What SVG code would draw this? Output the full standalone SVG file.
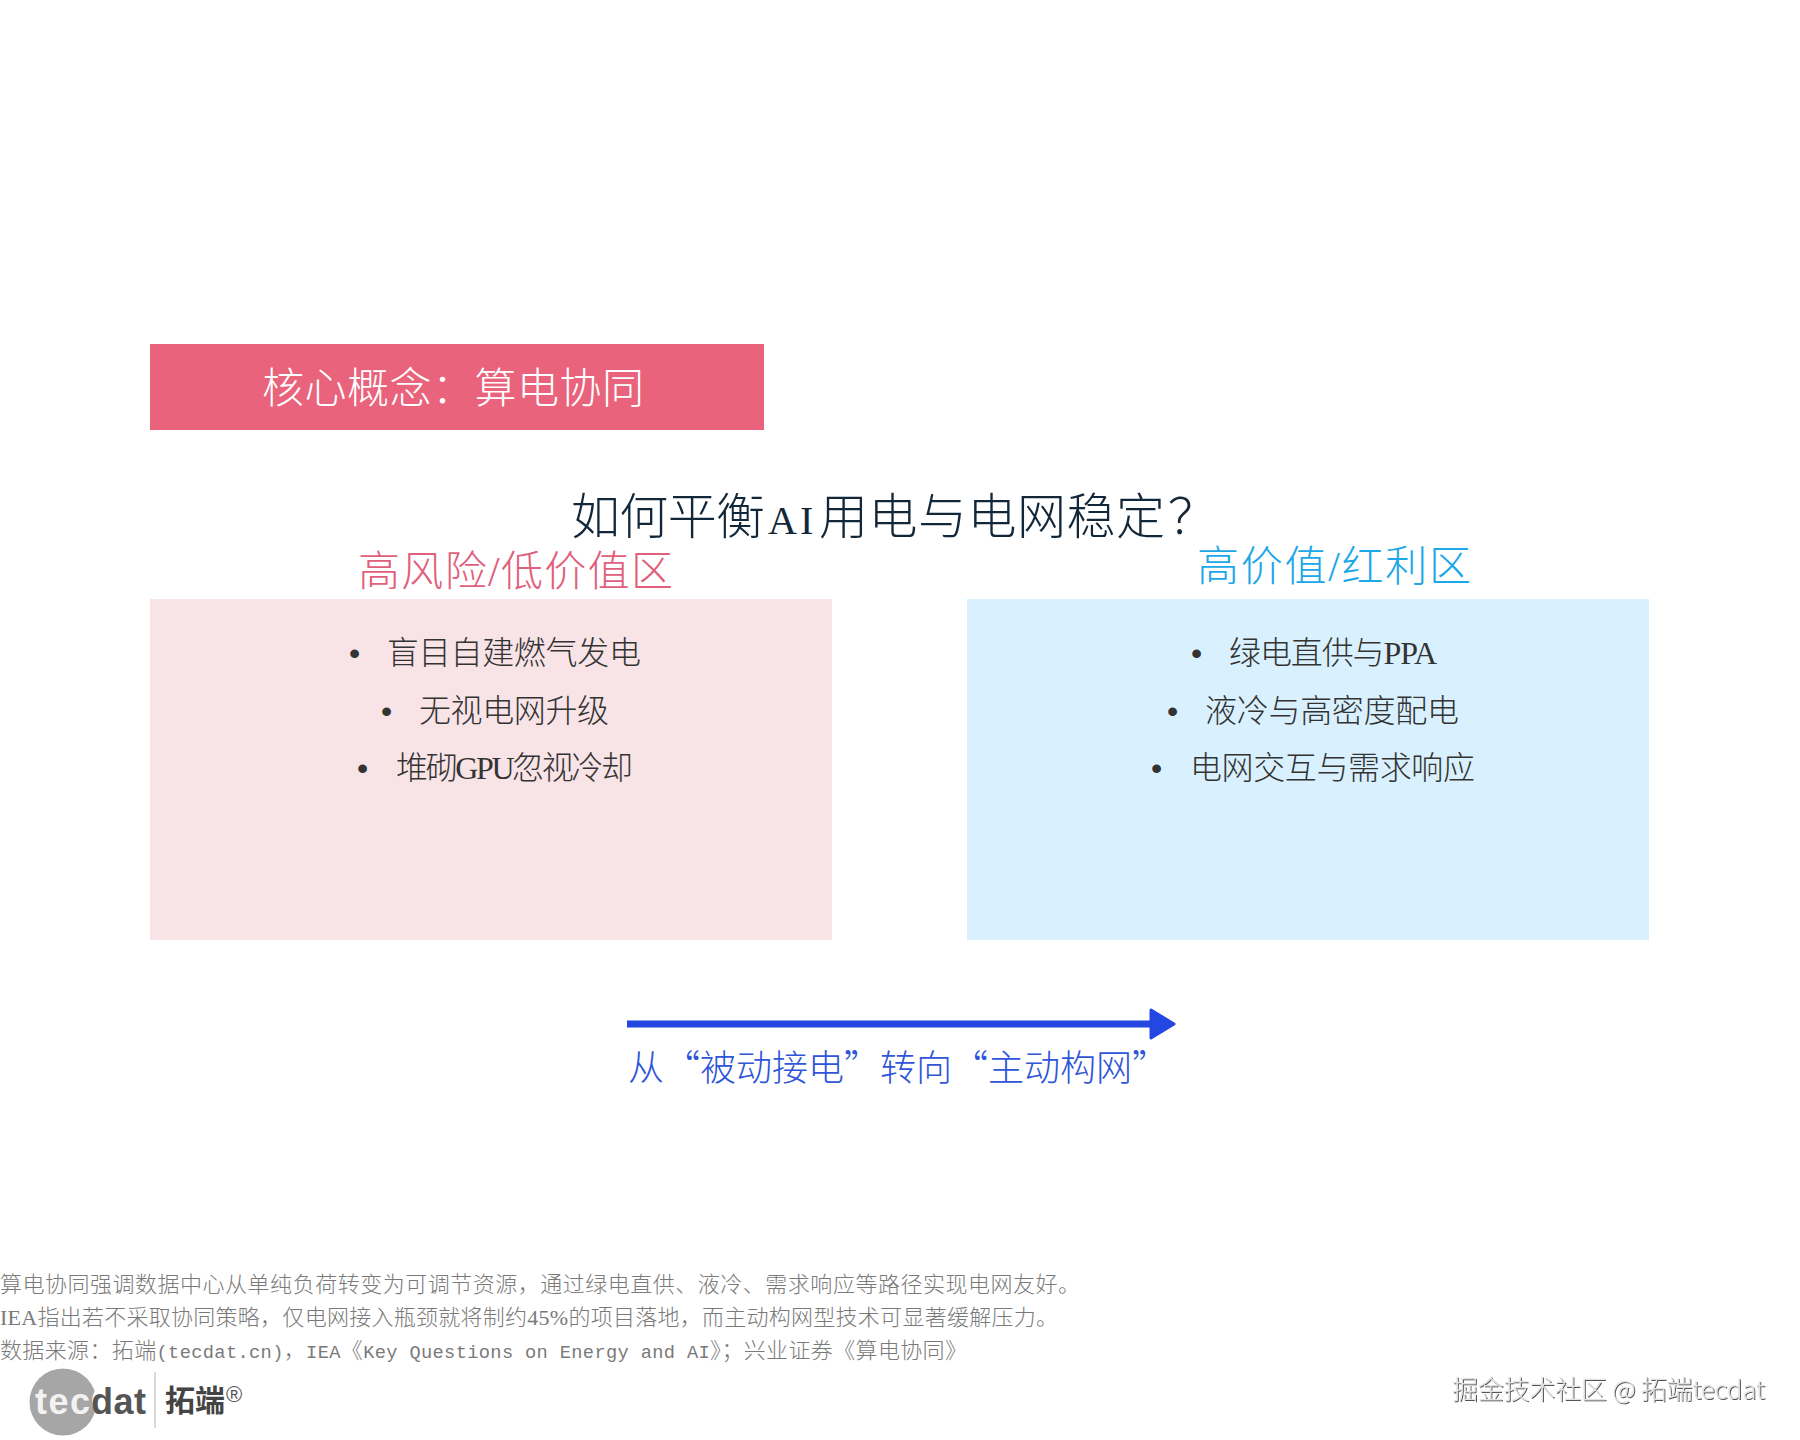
<svg xmlns="http://www.w3.org/2000/svg" width="1800" height="1440" viewBox="0 0 1800 1440">
<defs>
<style>
text{font-family:"Noto Sans CJK SC","Liberation Serif",serif;font-weight:300}
.l{font-family:"Liberation Serif",serif;font-weight:400}
.m{font-family:"Liberation Mono",monospace;font-weight:400;font-size:18.7px}
.f{font-size:22px;fill:#7a7a7a}
.b{font-size:32px;fill:#333}
.d{font-family:"Liberation Mono",monospace;font-weight:400;font-size:32px;fill:#333}
.w{font-family:"Noto Sans CJK SC","Liberation Sans",sans-serif;font-size:26px;fill:#e2e2e2;filter:url(#emboss)}
</style>
<filter id="emboss" x="-5%" y="-20%" width="110%" height="140%"><feDropShadow dx="1" dy="1" stdDeviation="0.4" flood-color="#555"/></filter>
<marker id="ah" markerUnits="userSpaceOnUse" markerWidth="30" markerHeight="36" refX="2" refY="18" orient="auto"><path d="M3 4 L26 18 L3 32Z" fill="#2347e0" stroke="#2347e0" stroke-width="3" stroke-linejoin="round"/></marker>
</defs>
<rect width="1800" height="1440" fill="#fff"/>
<g id="header"><rect x="150" y="344" width="614" height="86" fill="#e8637b"/><text x="262" y="403" font-size="42" fill="#fff" textLength="382">核心概念：算电协同</text></g>
<g id="title"><text y="534" font-size="49" fill="#12283a"><tspan x="571" textLength="194">如何平衡</tspan><tspan x="768" class="l" font-size="40" letter-spacing="3">AI</tspan><tspan x="819" textLength="346">用电与电网稳定</tspan><tspan x="1168">？</tspan></text></g>
<g id="risk">
<text x="358" y="586" font-size="42" fill="#e0607c" textLength="315">高风险<tspan class="l">/</tspan>低价值区</text>
<rect x="150" y="599" width="682" height="341" fill="#f8e3e7"/>
<text x="345" y="664" class="d">•</text><text x="387" y="664" class="b" textLength="254">盲目自建燃气发电</text>
<text x="377" y="722" class="d">•</text><text x="419" y="722" class="b" textLength="190">无视电网升级</text>
<text x="353" y="779" class="d">•</text><text x="396" y="779" class="b" textLength="237">堆砌<tspan class="l">GPU</tspan>忽视冷却</text>
</g>
<g id="value">
<text x="1197" y="581" font-size="42" fill="#1ba7e8" textLength="274">高价值<tspan class="l">/</tspan>红利区</text>
<rect x="967" y="599" width="682" height="341" fill="#d9f1fe"/>
<text x="1187" y="664" class="d">•</text><text x="1229" y="664" class="b" textLength="208">绿电直供与<tspan class="l">PPA</tspan></text>
<text x="1163" y="722" class="d">•</text><text x="1205" y="722" class="b" textLength="254">液冷与高密度配电</text>
<text x="1147" y="779" class="d">•</text><text x="1190" y="779" class="b" textLength="285">电网交互与需求响应</text>
</g>
<g id="connectors"><line x1="627" y1="1024" x2="1150" y2="1024" stroke="#2347e0" stroke-width="7" marker-end="url(#ah)"/></g>
<g id="shift"><text x="628" y="1081" font-size="36" fill="#2f55d8">从“被动接电”转向“主动构网”</text></g>
<g id="notes">
<text x="0" y="1292" class="f" textLength="1080">算电协同强调数据中心从单纯负荷转变为可调节资源，通过绿电直供、液冷、需求响应等路径实现电网友好。</text>
<text x="0" y="1325" class="f" textLength="1058"><tspan class="l">IEA</tspan>指出若不采取协同策略，仅电网接入瓶颈就将制约<tspan class="l">45%</tspan>的项目落地，而主动构网型技术可显著缓解压力。</text>
<text x="0" y="1358" class="f" textLength="967">数据来源：拓端<tspan class="m">(tecdat.cn)</tspan>，<tspan class="m">IEA</tspan>《<tspan class="m">Key Questions on Energy and AI</tspan>》；兴业证券《算电协同》</text>
</g>
<g id="logo">
<circle cx="63" cy="1402" r="33.5" fill="#a6a6a6"/>
<circle cx="115" cy="1402" r="23" fill="#fff"/>
<text x="35" y="1414" font-size="36" fill="#f2f2f2" textLength="55" style="font-family:'Liberation Sans',sans-serif;font-weight:700">tec</text>
<text x="91" y="1414" font-size="36" fill="#555" textLength="55" style="font-family:'Liberation Sans',sans-serif;font-weight:700">dat</text>
<line x1="155" y1="1372" x2="155" y2="1428" stroke="#ccc" stroke-width="1.5"/>
<text x="165" y="1411" font-size="30" fill="#444" style="font-family:'Noto Sans CJK SC',sans-serif;font-weight:700">拓端</text>
<text x="226" y="1402" font-size="22" fill="#555" style="font-family:'Liberation Sans',sans-serif;font-weight:400">®</text>
</g>
<g id="watermark"><text x="1452" y="1399" class="w" textLength="313">掘金技术社区 @ 拓端tecdat</text></g>
</svg>
